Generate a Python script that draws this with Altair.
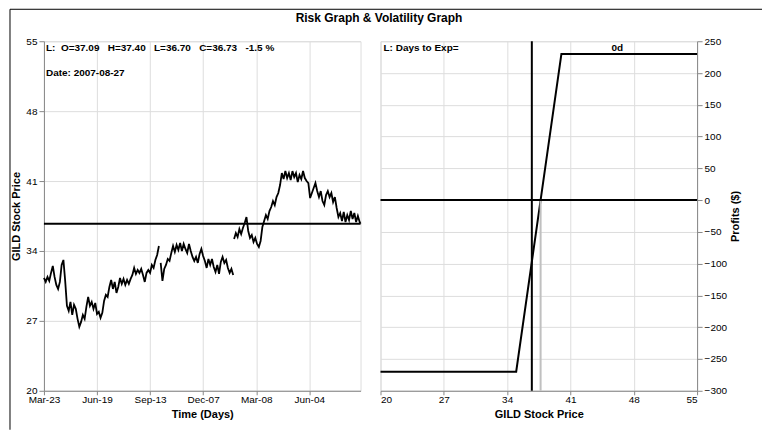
import altair as alt
import pandas as pd

# ---------------- data ----------------
chart_title = "Risk Graph & Volatility Graph"
NB = "\u00a0"
ohlc_text = ("L:" + NB * 2 + "O=37.09" + NB * 3 + "H=37.40" + NB * 3 + "L=36.70"
             + NB * 3 + "C=36.73" + NB * 3 + "-1.5" + NB + "%")
date_text = "Date: 2007-08-27"
exp_text = "L: Days to Exp="
days_label = "0d"

tick_days = [0, 60, 120, 180, 240, 300]
tick_labels = ["Mar-23", "Jun-19", "Sep-13", "Dec-07", "Mar-08", "Jun-04"]
last_day = 358

# price segments (trading-day index start, step, prices)
seg1_start, seg1_step = 0, 2
seg1_prices = [31.3, 30.9, 31.4, 31.0, 31.8, 32.5, 31.4, 30.6, 30.2, 30.9,
               32.6, 33.1, 31.0, 28.5, 28.0, 28.9, 27.6, 28.6, 28.2, 27.2,
               26.4, 26.9, 27.6, 27.2, 28.4, 29.4, 28.5, 28.9, 28.2, 28.8,
               27.7, 27.9, 27.3, 27.8, 29.0, 29.6, 29.4, 30.4, 31.1, 30.2,
               30.9, 29.8, 30.4, 31.3, 30.7, 31.2, 30.6, 31.1, 30.7, 31.2,
               31.6, 32.3, 31.7, 32.1, 31.8, 32.2, 31.6, 30.9, 31.8, 32.1,
               31.8, 32.6, 32.3, 33.1, 33.6, 34.5]
seg2_start, seg2_step = 132, 2
seg2_prices = [32.8, 31.0, 32.2, 32.6, 33.2, 33.0, 33.8, 34.5, 33.9, 34.6,
               34.1, 34.8, 34.0, 34.7, 34.2, 33.8, 34.7, 34.0, 33.4, 33.0,
               33.4, 32.8, 33.7, 34.2, 33.5, 33.0, 32.3, 33.2, 32.6, 33.2,
               32.4, 31.9, 32.6, 31.7, 32.9, 33.4, 32.8, 33.1, 32.3, 31.8,
               32.2, 31.6]
seg3_start, seg3_step = 215, 2
seg3_prices = [35.2, 35.8, 35.4, 36.2, 35.7, 36.3, 36.8, 37.4, 36.0, 35.3,
               35.6, 34.9, 35.3, 34.7, 34.4, 35.0, 36.4, 37.0, 37.6, 37.2,
               38.0, 38.4, 39.0, 38.6, 39.4, 39.8, 40.6, 41.8, 41.2, 42.0,
               41.3, 41.8, 41.1, 42.0, 41.4, 41.8, 40.9, 41.6, 41.2, 42.0,
               41.3, 41.0, 40.8, 39.3, 39.8, 40.3, 40.8, 40.0, 39.4, 40.0,
               39.0, 38.6, 39.6, 40.0, 39.4, 39.8, 38.9, 39.4, 38.3, 37.4,
               37.8, 37.0, 37.9, 36.9, 37.6, 37.1, 38.0, 37.2, 37.8, 36.9,
               37.5, 36.9]
last_price = 36.73

price_ticks = [20, 27, 34, 41, 48, 55]

# risk graph (bull call spread at expiry)
risk_price = [20, 35, 40, 55]
risk_profit = [-270, -270, 230, 230]
breakeven = 37.7
profit_ticks = [-300, -250, -200, -150, -100, -50, 0, 50, 100, 150, 200, 250]

# ---------------- tables ----------------
rows = []
for seg, (start, step, prices) in enumerate([
        (seg1_start, seg1_step, seg1_prices),
        (seg2_start, seg2_step, seg2_prices),
        (seg3_start, seg3_step, seg3_prices)]):
    for i, p in enumerate(prices):
        rows.append({"day": start + i * step, "price": p, "seg": seg})
rows.append({"day": last_day, "price": last_price, "seg": 2})
price_df = pd.DataFrame(rows)
risk_df = pd.DataFrame({"price": risk_price, "profit": risk_profit})

FONT = "Liberation Sans"
W, H = 317, 350

label_expr = ("[" + ",".join("'%s'" % s for s in tick_labels) + "][indexof(["
              + ",".join(str(d) for d in tick_days) + "], datum.value)]")

x_days = alt.X("day:Q", scale=alt.Scale(domain=[0, last_day], nice=False, zero=False),
               axis=alt.Axis(values=tick_days, labelExpr=label_expr, title="Time (Days)",
                             tickSize=4, labelPadding=0, titlePadding=4, labelFlush=False,
                             labelOverlap=False))
price_axis = alt.Axis(values=price_ticks, title="GILD Stock Price",
                      tickSize=5, labelPadding=2, titlePadding=4, labelOverlap=False)
price_scale = alt.Scale(domain=[20, 55], nice=False, zero=False)

one = pd.DataFrame({"a": [0]})
frame_top = alt.Chart(one).mark_rule(color="black", strokeWidth=1).encode(
    x=alt.value(-34), x2=alt.value(719), y=alt.value(-32))
frame_left = alt.Chart(one).mark_rule(color="black", strokeWidth=1).encode(
    x=alt.value(-34), y=alt.value(-32), y2=alt.value(389))

price_line = alt.Chart(price_df).mark_line(color="black", strokeWidth=1.8).encode(
    x=x_days, y=alt.Y("price:Q", scale=price_scale, axis=price_axis), detail="seg:N")

last_rule = alt.Chart(pd.DataFrame({"price": [last_price]})).mark_rule(
    color="black", strokeWidth=2).encode(
    y=alt.Y("price:Q", scale=price_scale, axis=price_axis))

def label(txt, x, y, size=10, align="left"):
    return alt.Chart(pd.DataFrame({"t": [txt]})).mark_text(
        font=FONT, fontSize=size, fontWeight="bold", align=align,
        baseline="middle", color="black").encode(
        text="t:N", x=alt.value(x), y=alt.value(y))

left = alt.layer(
    price_line, last_rule, frame_top, frame_left,
    label(ohlc_text, 2, 6.5), label(date_text, 2, 32),
    label(chart_title, 335.5, -23, size=12, align="center"),
).properties(width=W, height=H)

x_price = alt.X("price:Q", scale=price_scale,
                axis=alt.Axis(values=price_ticks, title="GILD Stock Price",
                              tickSize=4, labelPadding=0, titlePadding=4,
                              labelOverlap=False))
y_profit = alt.Y("profit:Q", scale=alt.Scale(domain=[-300, 250], nice=False, zero=False),
                 axis=alt.Axis(values=profit_ticks, title="Profits ($)", orient="right",
                               titleAngle=270, tickSize=5, labelPadding=2, titlePadding=14,
                               labelOverlap=False))

risk_line = alt.Chart(risk_df).mark_line(color="black", strokeWidth=2).encode(
    x=x_price, y=y_profit)
be_rule = alt.Chart(pd.DataFrame({"price": [breakeven], "profit": [0], "hi": [-300]})).mark_rule(
    color="#c0c0c0", strokeWidth=2).encode(x=x_price, y=y_profit, y2="hi:Q")
zero_rule = alt.Chart(pd.DataFrame({"profit": [0]})).mark_rule(
    color="black", strokeWidth=2).encode(y=y_profit)
now_rule = alt.Chart(pd.DataFrame({"price": [last_price]})).mark_rule(
    color="black", strokeWidth=2).encode(x=x_price)

right = alt.layer(
    risk_line, be_rule, zero_rule, now_rule,
    label(exp_text, 3, 6.5), label(days_label, 237, 6.5, align="center"),
).properties(width=W, height=H)

chart = alt.hconcat(left, right, spacing=20, bounds="flush").properties(
    padding={"left": 1, "top": 0, "right": 0, "bottom": 0}
).configure_view(stroke="#808080", strokeWidth=2).configure_axis(
    labelFont=FONT, labelFontSize=10, labelColor="black",
    titleFont=FONT, titleFontSize=10, titleFontWeight="bold", titleColor="black",
    gridColor="#d3d3d3", gridWidth=1, tickColor="#333333", domainColor="#808080",
    domainWidth=2,
).configure(background="white")

chart.save("out.html", embed_options={"renderer": "svg", "actions": False})
